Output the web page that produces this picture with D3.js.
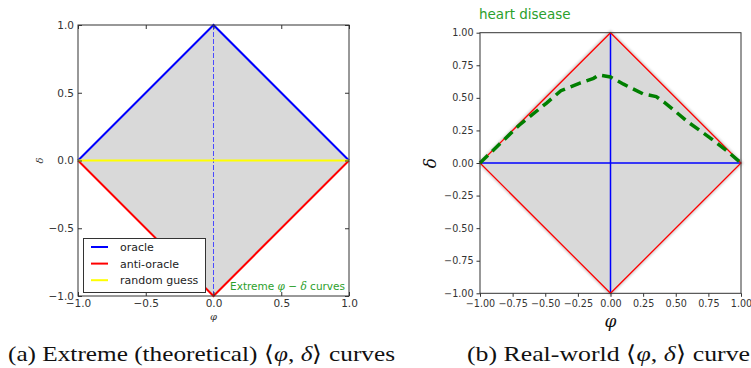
<!DOCTYPE html>
<html>
<head>
<meta charset="utf-8">
<script src="https://cdn.jsdelivr.net/npm/d3@7"></script>
<style>
  body { margin: 0; background: #fff; }
  svg { display: block; }
  .tick text { font-family: "DejaVu Sans", sans-serif; fill: #333; }
</style>
</head>
<body>
<svg width="751" height="368"></svg>
<script>
// --- data ---
var oraclePhi = [-1, 0, 1];
var oracleDelta = [0, 1, 0];
var antiPhi = [-1, 0, 1];
var antiDelta = [0, -1, 0];
var randomPhi = [-1, 1];
var randomDelta = [0, 0];
var legendNames = ["oracle", "anti-oracle", "random guess"];
var legendColors = ["#0000ff", "#ff0000", "#ffff00"];
var leftTicks = [-1, -0.5, 0, 0.5, 1];
var rightTicks = [-1, -0.75, -0.5, -0.25, 0, 0.25, 0.5, 0.75, 1];
// heart disease curve
var heartPhi = [-1.0, -0.7, -0.49, -0.38, -0.23, -0.13, -0.09, 0.0, 0.1, 0.25, 0.35, 0.42, 0.6, 0.76, 0.89, 1.0];
var heartDelta = [0.0, 0.29, 0.46, 0.555, 0.615, 0.65, 0.675, 0.66, 0.605, 0.53, 0.51, 0.46, 0.31, 0.195, 0.095, 0.0];

var svg = d3.select("svg");
var line = d3.line().x(d => d[0]).y(d => d[1]);
var zip = (a, b) => a.map((v, i) => [v, b[i]]);

var defs = svg.append("defs");
defs.append("filter").attr("id", "blur")
  .attr("x", "-10%").attr("y", "-10%").attr("width", "120%").attr("height", "120%")
  .append("feGaussianBlur").attr("stdDeviation", 1.3);

// ---------- left panel ----------
var xL = d3.scaleLinear().domain([-1, 1]).range([78, 349]);
var yL = d3.scaleLinear().domain([-1, 1]).range([296, 25]);
var gL = svg.append("g");

var diamond = [[-1, 0], [0, 1], [1, 0], [0, -1], [-1, 0]];
gL.append("path")
  .attr("d", line(diamond.map(p => [xL(p[0]), yL(p[1])])))
  .attr("fill", "#d9d9d9");

gL.append("line")
  .attr("x1", xL(0)).attr("x2", xL(0)).attr("y1", yL(1)).attr("y2", yL(-1))
  .attr("stroke", "#4a4aff").attr("stroke-width", 1).attr("stroke-dasharray", "5,2");

[[oraclePhi, oracleDelta, legendColors[0]], [antiPhi, antiDelta, legendColors[1]], [randomPhi, randomDelta, legendColors[2]]]
  .forEach(function (s) {
    gL.append("path")
      .attr("d", line(zip(s[0], s[1]).map(p => [xL(p[0]), yL(p[1])])))
      .attr("fill", "none").attr("stroke", s[2]).attr("stroke-width", 2);
  });

// axes, ticks pointing inward (classic style)
function inward(g) { g.select(".domain").remove(); g.selectAll(".tick line").attr("stroke", "#333"); }
gL.append("g").attr("transform", "translate(" + xL(-1) + ",0)")
  .call(d3.axisLeft(yL).tickValues(leftTicks).tickFormat(d3.format(".1f")).tickSizeInner(-4).tickSizeOuter(0).tickPadding(4))
  .call(inward).selectAll("text").style("font-size", "10.5px");
gL.append("g").attr("transform", "translate(0," + yL(-1) + ")")
  .call(d3.axisBottom(xL).tickValues(leftTicks).tickFormat(d3.format(".1f")).tickSizeInner(-4).tickSizeOuter(0).tickPadding(4))
  .call(inward).selectAll("text").style("font-size", "10.5px");
gL.append("g").attr("transform", "translate(" + xL(1) + ",0)")
  .call(d3.axisRight(yL).tickValues(leftTicks).tickFormat("").tickSizeInner(-4).tickSizeOuter(0))
  .call(inward);
gL.append("g").attr("transform", "translate(0," + yL(1) + ")")
  .call(d3.axisTop(xL).tickValues(leftTicks).tickFormat("").tickSizeInner(-4).tickSizeOuter(0))
  .call(inward);

gL.append("rect")
  .attr("x", xL(-1)).attr("y", yL(1)).attr("width", xL(1) - xL(-1)).attr("height", yL(-1) - yL(1))
  .attr("fill", "none").attr("stroke", "#333").attr("stroke-width", 1);

gL.append("text").attr("x", xL(0)).attr("y", 320).attr("text-anchor", "middle")
  .style("font-family", "DejaVu Serif, serif").style("font-style", "italic").style("font-size", "10px").attr("fill", "#333")
  .text("φ");
gL.append("text").attr("transform", "translate(43," + yL(0) + ") rotate(-90)").attr("text-anchor", "middle")
  .style("font-family", "DejaVu Serif, serif").style("font-style", "italic").style("font-size", "10px").attr("fill", "#333")
  .text("δ");

// legend
var leg = gL.append("g");
leg.append("rect").attr("x", 83.5).attr("y", 238.5).attr("width", 122).attr("height", 54)
  .attr("fill", "#fff").attr("stroke", "#333").attr("stroke-width", 1);
legendNames.forEach(function (n, i) {
  var yy = 247 + i * 16.6;
  leg.append("line").attr("x1", 91).attr("x2", 108).attr("y1", yy).attr("y2", yy)
    .attr("stroke", legendColors[i]).attr("stroke-width", 2);
  leg.append("text").attr("x", 120).attr("y", yy + 4)
    .style("font-family", "DejaVu Sans, sans-serif").style("font-size", "11px").attr("fill", "#222")
    .text(n);
});

var ext = gL.append("text").attr("x", 345).attr("y", 290).attr("text-anchor", "end")
  .style("font-family", "DejaVu Sans, sans-serif").style("font-size", "10.5px").attr("fill", "#2ca02c");
ext.append("tspan").text("Extreme ");
ext.append("tspan").style("font-family", "DejaVu Serif, serif").style("font-style", "italic").text("φ");
ext.append("tspan").text(" − ");
ext.append("tspan").style("font-family", "DejaVu Serif, serif").style("font-style", "italic").text("δ");
ext.append("tspan").text(" curves");

// ---------- right panel ----------
var xR = d3.scaleLinear().domain([-1, 1]).range([480, 741]);
var yR = d3.scaleLinear().domain([-1, 1]).range([293.3, 32.7]);
var gR = svg.append("g");

var rDiamond = diamond.map(p => [xR(p[0]), yR(p[1])]);
gR.append("path").attr("d", line(rDiamond)).attr("fill", "#d9d9d9")
  .attr("stroke", "#d4d4d4").attr("stroke-width", 4).attr("filter", "url(#blur)");
gR.append("path").attr("d", line(rDiamond)).attr("fill", "#d9d9d9");

gR.append("line").attr("x1", xR(0)).attr("x2", xR(0)).attr("y1", yR(1)).attr("y2", yR(-1))
  .attr("stroke", "#0000ff").attr("stroke-width", 1.5);
gR.append("line").attr("x1", xR(-1)).attr("x2", xR(1)).attr("y1", yR(0)).attr("y2", yR(0))
  .attr("stroke", "#0000ff").attr("stroke-width", 1.5);
gR.append("path").attr("d", line(rDiamond)).attr("fill", "none")
  .attr("stroke", "#ff0000").attr("stroke-width", 1.3);

gR.append("path")
  .attr("d", d3.line().x(d => xR(d[0])).y(d => yR(d[1]))(zip(heartPhi, heartDelta)))
  .attr("fill", "none").attr("stroke", "#007f00").attr("stroke-width", 3.5)
  .attr("stroke-dasharray", "11,6");

function outward(g) { g.select(".domain").remove(); g.selectAll(".tick line").attr("stroke", "#333"); }
gR.append("g").attr("transform", "translate(" + xR(-1) + ",0)")
  .call(d3.axisLeft(yR).tickValues(rightTicks).tickFormat(d3.format(".2f")).tickSize(3.5).tickPadding(3))
  .call(outward).selectAll("text").style("font-size", "9.6px");
gR.append("g").attr("transform", "translate(0," + yR(-1) + ")")
  .call(d3.axisBottom(xR).tickValues(rightTicks).tickFormat(d3.format(".2f")).tickSize(3.5).tickPadding(3))
  .call(outward).selectAll("text").style("font-size", "9.6px");

gR.append("rect")
  .attr("x", xR(-1)).attr("y", yR(1)).attr("width", xR(1) - xR(-1)).attr("height", yR(-1) - yR(1))
  .attr("fill", "none").attr("stroke", "#333").attr("stroke-width", 1);

gR.append("text").attr("x", 479).attr("y", 19)
  .style("font-family", "DejaVu Sans, sans-serif").style("font-size", "13.5px").attr("fill", "#2ca02c")
  .text("heart disease");
gR.append("text").attr("x", xR(0)).attr("y", 327).attr("text-anchor", "middle")
  .style("font-family", "DejaVu Serif, serif").style("font-style", "italic").style("font-size", "17px").attr("fill", "#111")
  .text("φ");
gR.append("text").attr("transform", "translate(436," + yR(0) + ") rotate(-90)").attr("text-anchor", "middle")
  .style("font-family", "DejaVu Serif, serif").style("font-style", "italic").style("font-size", "17px").attr("fill", "#111")
  .text("δ");

// ---------- captions ----------
function caption(x, w, parts) {
  var t = svg.append("text").attr("x", x).attr("y", 361).attr("text-anchor", "middle")
    .attr("textLength", w).attr("lengthAdjust", "spacingAndGlyphs")
    .style("font-family", "Liberation Serif, serif").style("font-size", "22px").attr("fill", "#111");
  parts.forEach(function (p) {
    var s = t.append("tspan").text(p[0]);
    if (p[1]) s.style("font-style", "italic");
  });
}
caption(201.5, 387, [["(a) Extreme (theoretical) ⟨"], ["φ", 1], [", "], ["δ", 1], ["⟩ curves"]]);
caption(608.5, 283, [["(b) Real-world ⟨"], ["φ", 1], [", "], ["δ", 1], ["⟩ curve"]]);
</script>
</body>
</html>
